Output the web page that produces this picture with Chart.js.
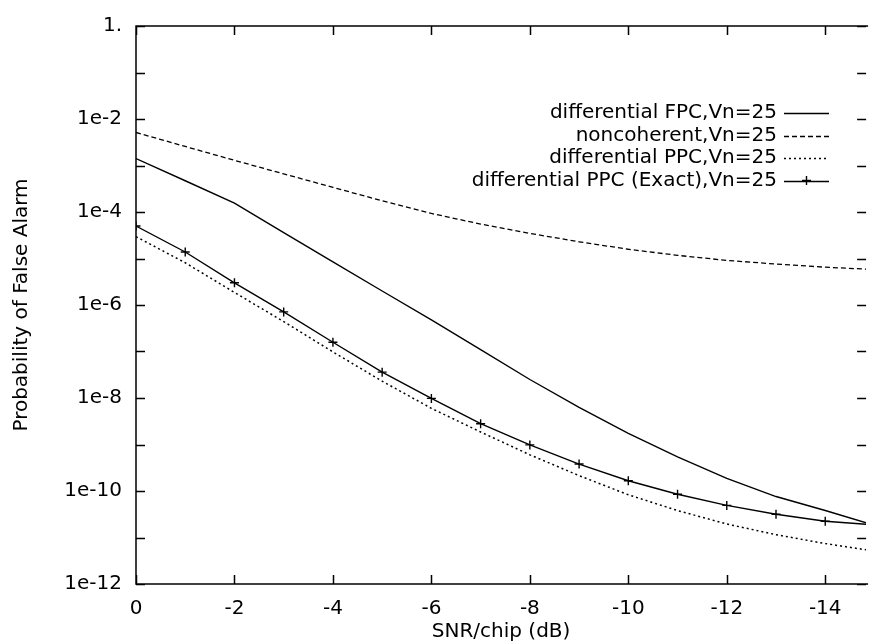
<!DOCTYPE html>
<html>
<head>
<meta charset="utf-8">
<script src="https://cdn.jsdelivr.net/npm/chart.js@4.4.1/dist/chart.umd.min.js"></script>
<style>
  html, body { margin: 0; padding: 0; background: #fff; }
  #wrap { width: 872px; height: 644px; }
</style>
</head>
<body>
<div id="wrap"><canvas id="pfaChart" width="872" height="644"></canvas></div>
<script>
// SNR/chip in dB (x axis runs from 0 down to negative values)
const snrDb = [0, -1, -2, -3, -4, -5, -6, -7, -8, -9, -10, -11, -12, -13, -14, -15];

// probability of false alarm
const fpcDiff = [1.41e-3, 4.7e-4, 1.55e-4, 3.6e-5, 8.5e-6, 2.0e-6, 4.8e-7, 1.1e-7,
                 2.5e-8, 6.3e-9, 1.74e-9, 5.4e-10, 1.86e-10, 7.6e-11, 3.8e-11, 1.82e-11];
const noncoherent = [5.13e-3, 2.57e-3, 1.29e-3, 6.6e-4, 3.39e-4, 1.74e-4, 9.3e-5, 5.5e-5,
                     3.47e-5, 2.29e-5, 1.58e-5, 1.17e-5, 9.1e-6, 7.6e-6, 6.5e-6, 5.8e-6];
const ppcDiff = [2.95e-5, 8.1e-6, 1.86e-6, 4.4e-7, 9.8e-8, 2.3e-8, 6.0e-9, 1.86e-9,
                 6.0e-10, 2.14e-10, 8.3e-11, 3.8e-11, 1.95e-11, 1.15e-11, 7.4e-12, 5.1e-12];
const ppcExact = [5.0e-5, 1.38e-5, 3.0e-6, 7.1e-7, 1.58e-7, 3.6e-8, 9.8e-9, 2.8e-9,
                  9.8e-10, 3.8e-10, 1.66e-10, 8.5e-11, 4.9e-11, 3.16e-11, 2.24e-11, 1.86e-11];

const seriesLabels = [
    "differential FPC,Vn=25",
    "noncoherent,Vn=25",
    "differential PPC,Vn=25",
    "differential PPC (Exact),Vn=25"
];

// tick labels
const xTickValues = [0, -2, -4, -6, -8, -10, -12, -14];
const xTickLabels = ["0", "-2", "-4", "-6", "-8", "-10", "-12", "-14"];
const yTickValues = [1, 1e-2, 1e-4, 1e-6, 1e-8, 1e-10, 1e-12];
const yTickLabels = ["1.", "1e-2", "1e-4", "1e-6", "1e-8", "1e-10", "1e-12"];
const yDecades = [1, 1e-1, 1e-2, 1e-3, 1e-4, 1e-5, 1e-6, 1e-7, 1e-8, 1e-9, 1e-10, 1e-11, 1e-12];

const FONT = "'DejaVu Sans', sans-serif";

function toPoints(values) {
    return snrDb.map((s, i) => ({ x: s, y: values[i] }));
}

// gnuplot style frame with inward ticks on all sides
const frameTicks = {
    id: "frameTicks",
    afterDatasetsDraw(chart) {
        const { ctx, chartArea: a, scales: { x, y } } = chart;
        const len = 9;
        ctx.save();
        ctx.strokeStyle = "#000";
        ctx.lineWidth = 1.5;
        ctx.beginPath();
        ctx.moveTo(a.right + 2, a.top);
        ctx.lineTo(a.left, a.top);
        ctx.lineTo(a.left, a.bottom);
        ctx.lineTo(a.right + 2, a.bottom);

        xTickValues.forEach(v => {
            const px = Math.round(x.getPixelForValue(v)) + 0.5;
            ctx.moveTo(px, a.bottom);
            ctx.lineTo(px, a.bottom - len);
            ctx.moveTo(px, a.top);
            ctx.lineTo(px, a.top + len);
        });

        yDecades.forEach(v => {
            const py = Math.round(y.getPixelForValue(v)) + 0.5;
            ctx.moveTo(a.left, py);
            ctx.lineTo(a.left + len, py);
            ctx.moveTo(a.right, py);
            ctx.lineTo(a.right - len, py);
        });
        ctx.stroke();
        ctx.restore();
    }
};

// key in the top right corner: text right aligned, sample to its right
const gnuKey = {
    id: "gnuKey",
    afterDraw(chart) {
        const { ctx } = chart;
        const textRight = 777;
        const sampleLeft = 784;
        const sampleRight = 829;
        const rowTop = 113;
        const rowStep = 22.5;
        ctx.save();
        ctx.font = "20px " + FONT;
        ctx.fillStyle = "#000";
        ctx.textAlign = "right";
        ctx.textBaseline = "middle";
        chart.data.datasets.forEach((ds, i) => {
            const yy = rowTop + i * rowStep;
            ctx.fillText(ds.label, textRight, yy);
            ctx.strokeStyle = "#000";
            ctx.lineWidth = ds.borderWidth;
            ctx.setLineDash(ds.borderDash || []);
            ctx.beginPath();
            ctx.moveTo(sampleLeft, Math.round(yy) + 0.5);
            ctx.lineTo(sampleRight, Math.round(yy) + 0.5);
            ctx.stroke();
            if (ds.pointStyle === "cross") {
                const cx = (sampleLeft + sampleRight) / 2;
                ctx.setLineDash([]);
                ctx.beginPath();
                ctx.moveTo(cx, yy - 4.5);
                ctx.lineTo(cx, yy + 4.5);
                ctx.moveTo(cx - 4.5, yy);
                ctx.lineTo(cx + 4.5, yy);
                ctx.stroke();
            }
        });
        ctx.restore();
    }
};

const ctx = document.getElementById("pfaChart");

new Chart(ctx, {
    type: "line",
    data: {
        datasets: [
            {
                label: seriesLabels[0],
                data: toPoints(fpcDiff),
                borderColor: "#000",
                borderWidth: 1.4,
                pointRadius: 0
            },
            {
                label: seriesLabels[1],
                data: toPoints(noncoherent),
                borderColor: "#000",
                borderWidth: 1.3,
                borderDash: [5, 3],
                pointRadius: 0
            },
            {
                label: seriesLabels[2],
                data: toPoints(ppcDiff),
                borderColor: "#000",
                borderWidth: 1.5,
                borderDash: [2, 3],
                pointRadius: 0
            },
            {
                label: seriesLabels[3],
                data: toPoints(ppcExact),
                borderColor: "#000",
                borderWidth: 1.4,
                pointStyle: "cross",
                pointRadius: 4.5,
                pointBorderWidth: 1.4,
                pointBorderColor: "#000"
            }
        ]
    },
    options: {
        responsive: false,
        animation: false,
        devicePixelRatio: 1,
        layout: {
            padding: { top: 17, right: 0, bottom: 0, left: 0 }
        },
        plugins: {
            legend: { display: false },
            tooltip: { enabled: false }
        },
        scales: {
            x: {
                type: "linear",
                reverse: true,
                min: -14.83,
                max: 0,
                grid: { display: false, drawTicks: false },
                border: { display: false },
                afterBuildTicks: axis => {
                    axis.ticks = xTickValues.map(v => ({ value: v }));
                },
                afterFit: axis => {
                    axis.height = 60;
                },
                ticks: {
                    color: "#000",
                    padding: 13,
                    maxRotation: 0,
                    font: { family: FONT, size: 20 },
                    callback: value => xTickLabels[xTickValues.indexOf(value)]
                },
                title: {
                    display: true,
                    text: "SNR/chip (dB)",
                    color: "#000",
                    padding: { top: 0, bottom: 0 },
                    font: { family: FONT, size: 20 }
                }
            },
            y: {
                type: "logarithmic",
                min: 1e-12,
                max: 1,
                grid: { display: false, drawTicks: false },
                border: { display: false },
                afterBuildTicks: axis => {
                    axis.ticks = yTickValues.map(v => ({ value: v }));
                },
                afterFit: axis => {
                    axis.width = 136;
                },
                ticks: {
                    color: "#000",
                    padding: 14,
                    font: { family: FONT, size: 20 },
                    callback: value => yTickLabels[yTickValues.indexOf(value)]
                },
                title: {
                    display: true,
                    text: "Probability of False Alarm",
                    color: "#000",
                    padding: { top: 10, bottom: 0 },
                    font: { family: FONT, size: 20 }
                }
            }
        }
    },
    plugins: [frameTicks, gnuKey]
});
</script>
</body>
</html>
